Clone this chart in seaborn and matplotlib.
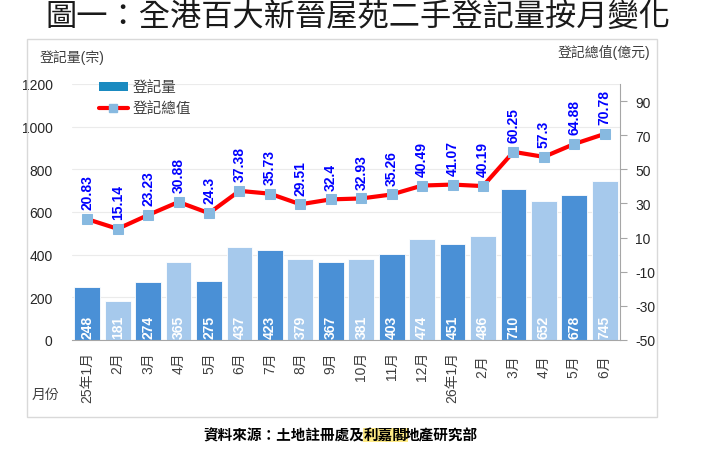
import numpy as np
import matplotlib
matplotlib.use('Agg')
import matplotlib.pyplot as plt
import seaborn as sns
from matplotlib.patches import Patch, Rectangle
from matplotlib.lines import Line2D

# data
months = ['25年1月', '2月', '3月', '4月', '5月', '6月', '7月', '8月', '9月', '10月',
          '11月', '12月', '26年1月', '2月 ', '3月 ', '4月 ', '5月 ', '6月 ']
volume = [248, 181, 274, 365, 275, 437, 423, 379, 367, 381, 403, 474, 451, 486, 710, 652, 678, 745]
value = [20.83, 15.14, 23.23, 30.88, 24.3, 37.38, 35.73, 29.51, 32.4, 32.93,
         35.26, 40.49, 41.07, 40.19, 60.25, 57.3, 64.88, 70.78]
value_text = ['20.83', '15.14', '23.23', '30.88', '24.3', '37.38', '35.73', '29.51', '32.4',
              '32.93', '35.26', '40.49', '41.07', '40.19', '60.25', '57.3', '64.88', '70.78']

sns.set_style('white')
plt.rcParams['font.family'] = ['Liberation Sans', 'Noto Sans CJK TC']
plt.rcParams['axes.unicode_minus'] = False

dark, light = '#4a90d6', '#a6c9ec'
bar_colors = [dark if i % 2 == 0 else light for i in range(len(months))]
grey_txt = '#404040'

fig = plt.figure(figsize=(7.16, 4.52), dpi=100)
# outer chart frame
fig.patches.append(Rectangle((27 / 716, 1 - 418 / 452), 630 / 716, 378 / 452,
                             transform=fig.transFigure, fill=False,
                             edgecolor='#d9d9d9', lw=1))

ax = fig.add_axes([72 / 716, 1 - 341 / 452, 548 / 716, 256 / 452])
x = np.arange(len(months))
sns.barplot(x=x, y=volume, hue=x, palette=bar_colors, legend=False, ax=ax,
            width=0.85, edgecolor='white', linewidth=0.6, saturation=1)
ax.set_ylim(0, 1200)
ax.set_xlim(-0.5, len(months) - 0.5)
ax.set_yticks(range(0, 1201, 200))
ax.yaxis.grid(True, color='#ebebeb', lw=0.8)
ax.set_axisbelow(True)
for s in ['top', 'right', 'left']:
    ax.spines[s].set_visible(False)
ax.spines['bottom'].set_color('#a6a6a6')
ax.tick_params(axis='y', length=0, labelsize=10, pad=14)
ax.set_xticks(x)
ax.set_xticklabels(months, rotation=90, fontsize=10, color=grey_txt)
ax.tick_params(axis='x', length=0, pad=8)
ax.set_xticks(np.arange(-0.5, len(months), 1), minor=True)
ax.tick_params(axis='x', which='minor', length=4, color='#a6a6a6')
ax.set_xlabel('')
ax.set_ylabel('')

for i, v in enumerate(volume):
    ax.text(i, 8, str(v), rotation=90, ha='center', va='bottom', color='white',
            fontsize=10, fontweight='bold')

ax2 = ax.twinx()
sns.lineplot(x=x, y=value, ax=ax2, color='#ff0000', lw=3, marker='s',
             markersize=7, markerfacecolor='#87b9e0', markeredgecolor='#87b9e0')
ax2.set_ylim(-50, 100)
ax2.set_yticks(range(-50, 91, 20))
for s in ['top', 'left', 'bottom']:
    ax2.spines[s].set_visible(False)
ax2.spines['right'].set_color('#a6a6a6')
ax2.tick_params(axis='y', length=5, color='#a6a6a6', labelsize=10, pad=6)
ax2.set_ylabel('')
for i, (v, t) in enumerate(zip(value, value_text)):
    ax2.annotate(t, (i, v), xytext=(0, 7), textcoords='offset points', rotation=90,
                 ha='center', va='bottom', color='#0000ff', fontsize=10, fontweight='bold')

handles = [Patch(facecolor='#1a8ac0', edgecolor='none'),
           Line2D([], [], color='#ff0000', lw=3, marker='s', markersize=6,
                  markerfacecolor='#87b9e0', markeredgecolor='#87b9e0')]
leg = ax2.legend(handles, ['登記量', '登記總值'], loc='upper left',
                 bbox_to_anchor=(0.025, 1.065), frameon=False, fontsize=10.5,
                 handlelength=2.0, handleheight=0.5, handletextpad=0.3,
                 labelspacing=0.5)
for t in leg.get_texts():
    t.set_color(grey_txt)

fig.text(0.5, 1 - 18 / 452, '圖一：全港百大新晉屋苑二手登記量按月變化', ha='center',
         va='center', fontsize=22.5, color='#1a1a1a')
fig.text(40 / 716, 1 - 58 / 452, '登記量(宗)', ha='left', va='center', fontsize=10, color=grey_txt)
fig.text(650 / 716, 1 - 52 / 452, '登記總值(億元)', ha='right', va='center', fontsize=10, color=grey_txt)
fig.text(32 / 716, 1 - 395 / 452, '月份', ha='left', va='center', fontsize=10, color=grey_txt)

# source line, with the highlighted company name
src = fig.text(203 / 716, 1 - 436 / 452, '資料來源：土地註冊處及', ha='left', va='center',
               fontsize=10.5, fontweight='bold', color='black')
fig.canvas.draw()
bb = src.get_window_extent()
hl = fig.text(bb.x1 / 716, 1 - 436 / 452, '利嘉閣', ha='left', va='center', fontsize=10.5,
              fontweight='bold', color='black',
              bbox=dict(facecolor='#ffeb84', edgecolor='none', pad=0.3))
fig.canvas.draw()
bb2 = hl.get_window_extent()
fig.text((bb2.x1 - 3) / 716, 1 - 436 / 452, '地產研究部', ha='left', va='center',
         fontsize=10.5, fontweight='bold', color='black')

fig.savefig('out.png', dpi=100)
